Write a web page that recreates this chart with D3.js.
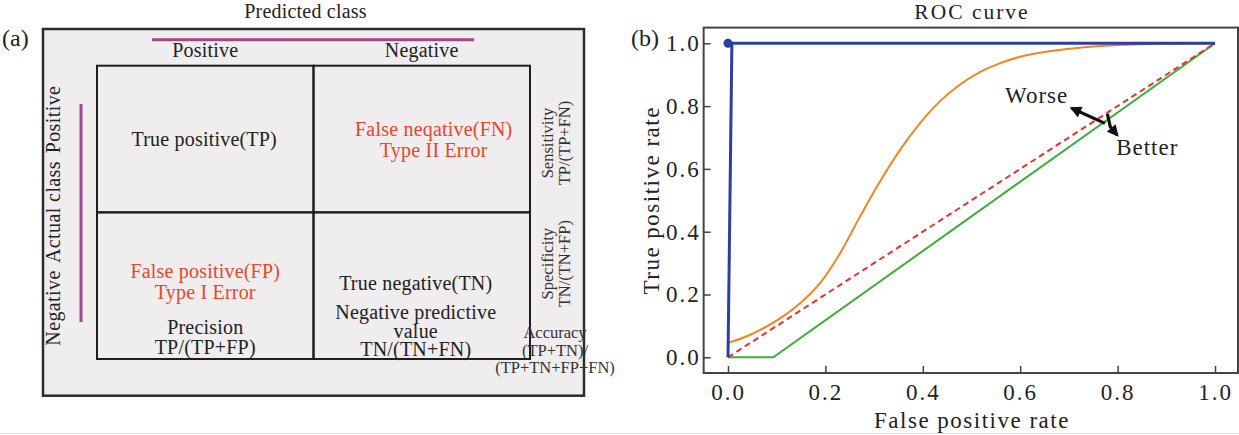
<!DOCTYPE html>
<html>
<head>
<meta charset="utf-8">
<script src="https://cdnjs.cloudflare.com/ajax/libs/d3/7.8.5/d3.min.js"></script>
<style>
body { margin: 0; background: #fff; }
svg text { font-family: "Liberation Serif", "Times New Roman", serif; fill: #222; }
</style>
</head>
<body>
<div id="graph"></div>
<script>
// (a) confusion matrix and (b) ROC curves

// ---- data ----
var predictedClasses = ["Positive", "Negative"];
var actualClasses = ["Positive", "Negative"];

// cells, row by row: actual Positive (TP, FN) then actual Negative (FP, TN)
var cellLabels = ["True positive(TP)", "False neqative(FN)", "False positive(FP)", "True negative(TN)"];
var cellErrors = [[], ["Type II Error"], ["Type I Error"], []];
var cellMetrics = [[], [], ["Precision", "TP/(TP+FP)"], ["Negative predictive", "value", "TN/(TN+FN)"]];

var rowMetrics = [["Sensitivity", "TP/(TP+FN)"], ["Specificity", "TN/(TN+FP)"]];
var accuracyLines = ["Accuracy", "(TP+TN)/", "(TP+TN+FP+FN)"];

var rocTicks = [0, 0.2, 0.4, 0.6, 0.8, 1.0];

// perfect classifier (blue)
var perfectFpr = [0, 0.008, 1];
var perfectTpr = [0, 1, 1];
// good classifier (orange)
var goodFpr = [0, 0.045, 0.066, 0.107, 0.148, 0.189, 0.230, 0.271, 0.312, 0.353, 0.394, 0.435, 0.476, 0.517, 0.559, 0.6, 0.64, 0.68, 0.75, 0.87, 1.0];
var goodTpr = [0.046, 0.071, 0.087, 0.124, 0.172, 0.236, 0.331, 0.448, 0.560, 0.660, 0.745, 0.815, 0.868, 0.908, 0.937, 0.957, 0.970, 0.979, 0.990, 0.998, 1.0];
// random guess (red dashed)
var randomFpr = [0, 1];
var randomTpr = [0, 1];
// worse than random (green)
var poorFpr = [0, 0.093, 1];
var poorTpr = [0, 0, 1];

// Worse / Better annotation, in data units
var worseArrow = [[0.774, 0.745], [0.706, 0.793]];
var betterArrow = [[0.779, 0.775], [0.785, 0.734], [0.799, 0.708]];
var worseLabel = [0.569, 0.81];
var betterLabel = [0.797, 0.644];

(function() {
	var svg = d3.select("#graph").append("svg")
		.attr("width", 1239)
		.attr("height", 435);

	var red = "#e8452e", magenta = "#a2478b";
	var mainFont = "20px", mainSpacing = "0.2px";

	// thin grey rule at the bottom of the figure
	svg.append("line")
		.attr("x1", 0).attr("x2", 1239).attr("y1", 433.5).attr("y2", 433.5)
		.attr("stroke", "#e2e2e2").attr("stroke-width", 1);

	// ===================== (a) confusion matrix =====================
	var matrix = {
		box: {x0: 43, y0: 29, x1: 584, y1: 395.7},
		col: d3.scaleBand().domain(predictedClasses).range([97, 530]),
		row: d3.scaleBand().domain(actualClasses).range([65.7, 359])
	};
	var a = svg.append("g");

	a.append("rect")
		.attr("x", matrix.box.x0).attr("y", matrix.box.y0)
		.attr("width", matrix.box.x1 - matrix.box.x0)
		.attr("height", matrix.box.y1 - matrix.box.y0)
		.attr("fill", "#efedee")
		.attr("stroke", "#2c2c2c")
		.attr("stroke-width", 2.5);

	a.append("text").attr("x", 2).attr("y", 46)
		.style("font-size", "24px").text("(a)");

	a.append("text").attr("x", 305.5).attr("y", 18)
		.attr("text-anchor", "middle")
		.style("font-size", mainFont).style("letter-spacing", mainSpacing)
		.text("Predicted class");

	// magenta guides
	a.append("line")
		.attr("x1", 152).attr("x2", 474).attr("y1", 39.7).attr("y2", 39.7)
		.attr("stroke", magenta).attr("stroke-width", 3);
	a.append("line")
		.attr("x1", 81).attr("x2", 81).attr("y1", 104).attr("y2", 322)
		.attr("stroke", magenta).attr("stroke-width", 3);

	// column headers
	a.selectAll(".colhead").data(predictedClasses).enter()
		.append("text")
		.attr("class", "colhead")
		.attr("x", function(d) { return matrix.col(d) + matrix.col.bandwidth() / 2; })
		.attr("y", 57)
		.attr("text-anchor", "middle")
		.style("font-size", mainFont).style("letter-spacing", mainSpacing)
		.text(function(d) { return d; });

	// rotated row header: Negative  Actual class  Positive
	var sideWords = ["Positive", "Actual class", "Negative"];
	var sideCentres = [119.5, 212, 308];
	a.selectAll(".rowhead").data(sideWords).enter()
		.append("text")
		.attr("class", "rowhead")
		.attr("transform", function(d, i) { return "translate(60," + sideCentres[i] + ") rotate(-90)"; })
		.attr("text-anchor", "middle")
		.style("font-size", mainFont).style("letter-spacing", "0.4px")
		.text(function(d) { return d; });

	// grid
	var cells = [];
	actualClasses.forEach(function(r, ri) {
		predictedClasses.forEach(function(c, ci) {
			cells.push({row: r, col: c, i: ri * 2 + ci});
		});
	});
	a.selectAll(".cell").data(cells).enter()
		.append("rect")
		.attr("class", "cell")
		.attr("x", function(d) { return matrix.col(d.col); })
		.attr("y", function(d) { return matrix.row(d.row); })
		.attr("width", matrix.col.bandwidth())
		.attr("height", matrix.row.bandwidth())
		.attr("fill", "none")
		.attr("stroke", "#1e1e1e")
		.attr("stroke-width", 2);

	// text inside cells; offsets from the cell top for each line
	var lineY = [[80.3], [70.3, 91.3], [65.3, 86.3, 121.3, 141.3], [77.3, 106.8, 125.3, 143.8]];
	var cellDx = [-1, 12, 0, -6];
	cells.forEach(function(d) {
		var lines = [cellLabels[d.i]].concat(cellErrors[d.i]).map(function(t) {
			return {t: t, red: cellErrors[d.i].length > 0};
		}).concat(cellMetrics[d.i].map(function(t) { return {t: t, red: false}; }));
		var cx = matrix.col(d.col) + matrix.col.bandwidth() / 2 + cellDx[d.i];
		var top = matrix.row(d.row);
		a.selectAll(null).data(lines).enter()
			.append("text")
			.attr("x", cx)
			.attr("y", function(l, j) { return top + lineY[d.i][j]; })
			.attr("text-anchor", "middle")
			.style("font-size", mainFont).style("letter-spacing", mainSpacing)
			.style("fill", function(l) { return l.red ? red : "#222"; })
			.text(function(l) { return l.t; });
	});

	// row metrics, rotated on the right of the grid
	var metricDy = [4, -22];
	var metricX = [553, 570];
	rowMetrics.forEach(function(m, ri) {
		var cy = matrix.row(actualClasses[ri]) + matrix.row.bandwidth() / 2 + metricDy[ri];
		a.selectAll(null).data(m).enter()
			.append("text")
			.attr("transform", function(t, j) { return "translate(" + metricX[j] + "," + cy + ") rotate(-90)"; })
			.attr("text-anchor", "middle")
			.style("font-size", "16.5px").style("fill", "#333")
			.text(function(t) { return t; });
	});

	var accY = [338, 356, 373];
	a.selectAll(".acc").data(accuracyLines).enter()
		.append("text")
		.attr("class", "acc")
		.attr("x", 555)
		.attr("y", function(d, i) { return accY[i]; })
		.attr("text-anchor", "middle")
		.style("font-size", "16.5px").style("fill", "#333")
		.text(function(d) { return d; });

	// ===================== (b) ROC curve =====================
	var roc = {
		x: d3.scaleLinear().domain([-0.05, 1.05]).range([703.65, 1239.35]),
		y: d3.scaleLinear().domain([-0.05, 1.05]).range([373, 27.6])
	};
	var b = svg.append("g");

	b.append("rect")
		.attr("x", roc.x(-0.05)).attr("y", roc.y(1.05))
		.attr("width", 1238 - roc.x(-0.05))
		.attr("height", roc.y(-0.05) - roc.y(1.05))
		.attr("fill", "#fff")
		.attr("stroke", "#444")
		.attr("stroke-width", 2);

	var xAxis = d3.axisBottom(roc.x).tickValues(rocTicks).tickFormat(d3.format(".1f"))
		.tickSizeInner(-7).tickSizeOuter(0).tickPadding(10.7);
	var yAxis = d3.axisLeft(roc.y).tickValues(rocTicks).tickFormat(d3.format(".1f"))
		.tickSizeInner(-7).tickSizeOuter(0).tickPadding(3);

	var gx = b.append("g").attr("transform", "translate(0," + roc.y(-0.05) + ")").call(xAxis);
	var gy = b.append("g").attr("transform", "translate(" + roc.x(-0.05) + ",0)").call(yAxis);
	[gx, gy].forEach(function(g) {
		g.select(".domain").remove();
		g.selectAll(".tick line").attr("stroke", "#444").attr("stroke-width", 1.5);
		g.selectAll(".tick text")
			.style("font-family", "Liberation Serif, serif")
			.style("font-size", "23px").style("letter-spacing", "2px")
			.attr("fill", "#222");
	});

	b.append("text").attr("x", 972).attr("y", 428)
		.attr("text-anchor", "middle")
		.style("font-size", "23px").style("letter-spacing", "1.5px")
		.text("False positive rate");
	b.append("text")
		.attr("transform", "translate(659," + roc.y(0.5) + ") rotate(-90)")
		.attr("text-anchor", "middle")
		.style("font-size", "23px").style("letter-spacing", "1.5px")
		.text("True positive rate");
	b.append("text").attr("x", 972).attr("y", 18.5)
		.attr("text-anchor", "middle")
		.style("font-size", "21.5px").style("letter-spacing", "2px")
		.text("ROC curve");
	b.append("text").attr("x", 631).attr("y", 46)
		.style("font-size", "24px").text("(b)");

	var line = d3.line()
		.x(function(d) { return roc.x(d[0]); })
		.y(function(d) { return roc.y(d[1]); });

	b.append("path").datum(d3.zip(poorFpr, poorTpr))
		.attr("d", line).attr("fill", "none")
		.attr("stroke", "#3cae3c").attr("stroke-width", 2);
	b.append("path").datum(d3.zip(randomFpr, randomTpr))
		.attr("d", line).attr("fill", "none")
		.attr("stroke", "#e8322f").attr("stroke-width", 2)
		.attr("stroke-dasharray", "6,4");
	b.append("path").datum(d3.zip(goodFpr, goodTpr))
		.attr("d", line.curve(d3.curveMonotoneX)).attr("fill", "none")
		.attr("stroke", "#f28424").attr("stroke-width", 2);
	line.curve(d3.curveLinear);
	b.append("path").datum(d3.zip(perfectFpr, perfectTpr))
		.attr("d", line).attr("fill", "none")
		.attr("stroke", "#2c3ea0").attr("stroke-width", 3);
	b.append("circle")
		.attr("cx", roc.x(perfectFpr[0])).attr("cy", roc.y(1))
		.attr("r", 4.5).attr("fill", "#2c3ea0");

	// arrow heads
	svg.append("defs").append("marker")
		.attr("id", "head")
		.attr("viewBox", "0 0 10 10")
		.attr("refX", 8).attr("refY", 5)
		.attr("markerWidth", 4).attr("markerHeight", 3.6)
		.attr("markerUnits", "strokeWidth")
		.attr("orient", "auto")
		.append("path").attr("d", "M0,0 L10,5 L0,10 z").attr("fill", "#111");

	[worseArrow, betterArrow].forEach(function(pts) {
		b.append("path").datum(pts)
			.attr("d", line).attr("fill", "none")
			.attr("stroke", "#111").attr("stroke-width", 3.2)
			.attr("stroke-linejoin", "round")
			.attr("marker-end", "url(#head)");
	});
	b.append("text").attr("x", roc.x(worseLabel[0])).attr("y", roc.y(worseLabel[1]))
		.style("font-size", "23px").style("letter-spacing", "1px").text("Worse");
	b.append("text").attr("x", roc.x(betterLabel[0])).attr("y", roc.y(betterLabel[1]))
		.style("font-size", "23px").style("letter-spacing", "1px").text("Better");
})();
</script>
</body>
</html>
